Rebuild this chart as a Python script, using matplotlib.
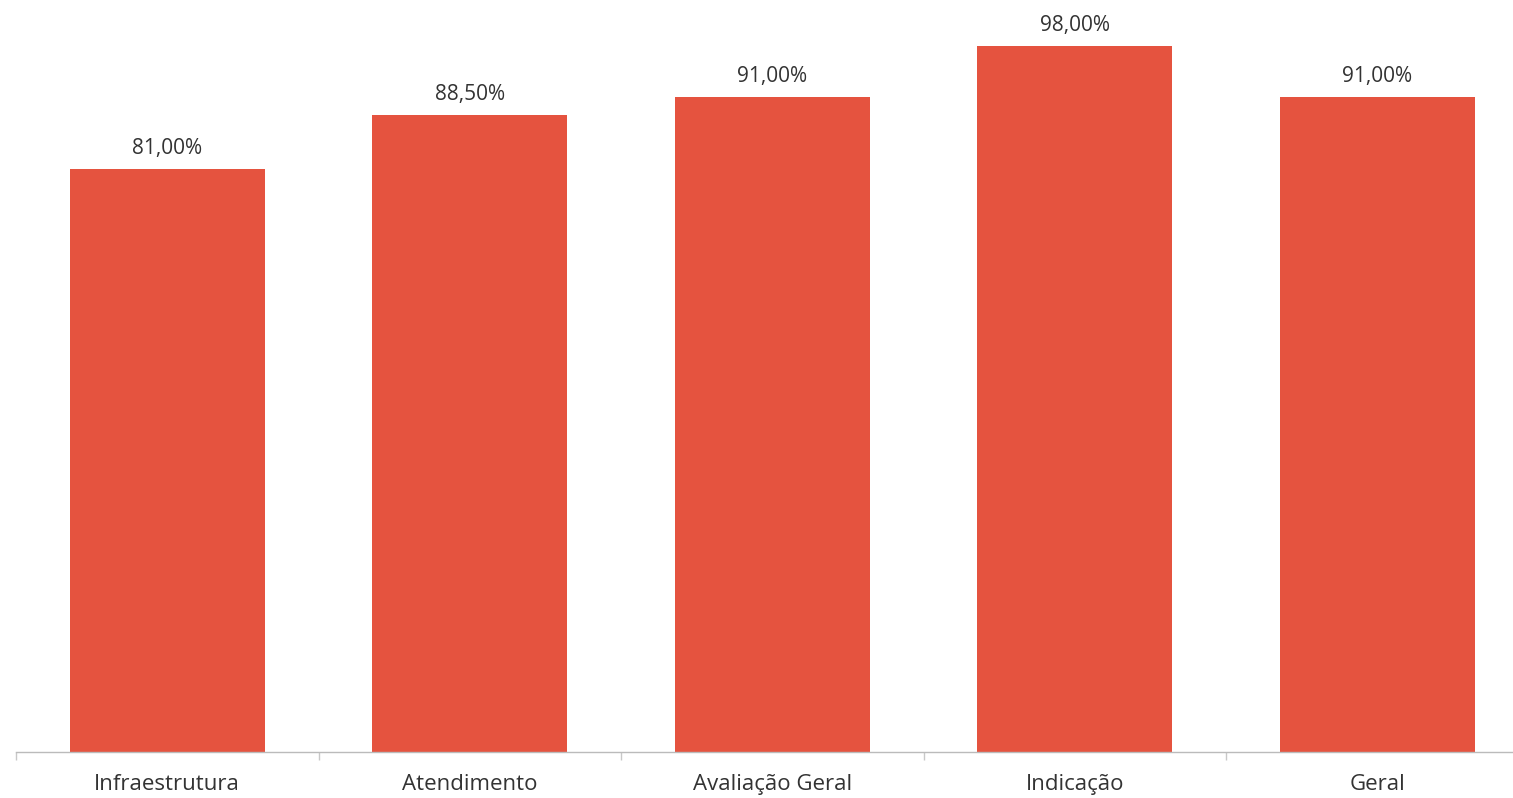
import numpy as np
import matplotlib
matplotlib.use("Agg")
from matplotlib import pyplot as plt

categories = ["Infraestrutura", "Atendimento", "Avaliação Geral", "Indicação", "Geral"]
values = [81.0, 88.5, 91.0, 98.0, 91.0]
labels = ["81,00%", "88,50%", "91,00%", "98,00%", "91,00%"]

plt.rcParams['font.family'] = ['Open Sans', 'DejaVu Sans']

fig = plt.figure(figsize=(15.13, 7.98), dpi=100)
ax = fig.add_axes([16 / 1513, 46 / 798, 1512.5 / 1513, 752 / 798])

x = np.arange(len(categories))
bars = ax.bar(x, values, width=0.645, color="#E5533F", zorder=2)

for xi, v, lab in zip(x, values, labels):
    ax.text(xi, v + 1.4, lab, ha="center", va="bottom", fontsize=15, color="#333333")

ax.set_xlim(-0.5, len(categories) - 0.5)
ax.set_ylim(0, 104.44)

# ticks sit between categories, labels at centres
ax.set_xticks(np.arange(len(categories) + 1) - 0.5)
ax.set_xticklabels([])
ax.set_xticks(x, minor=True)
ax.set_xticklabels(categories, minor=True, fontsize=16, color="#333333")
ax.tick_params(axis="x", which="major", length=6, color="#C8C8C8", width=1)
ax.tick_params(axis="x", which="minor", length=0, pad=16)
ax.set_yticks([])

for s in ["top", "right", "left"]:
    ax.spines[s].set_visible(False)
ax.spines["bottom"].set_color("#BBBBBB")
ax.spines["bottom"].set_linewidth(1)

fig.savefig("out.png", dpi=100)
